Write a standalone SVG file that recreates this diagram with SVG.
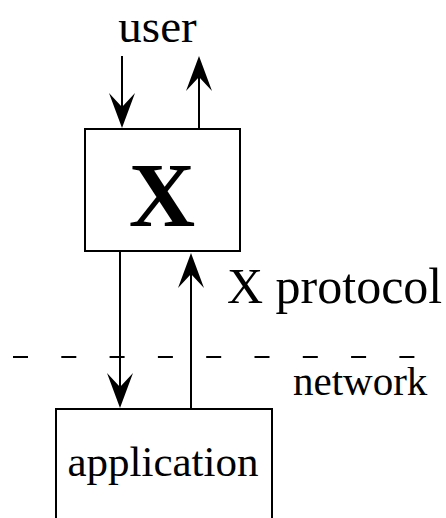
<svg xmlns="http://www.w3.org/2000/svg" width="446" height="518" viewBox="0 0 446 518">
<style>
  .box { fill: #fff; stroke: #000; stroke-width: 2; }
  .ln { stroke: #000; stroke-width: 2; fill: none; }
  .head { fill: #000; stroke: none; }
  .t { font-family: "Liberation Serif", "Times New Roman", serif; fill: #000; }
</style>
<defs>
  <path id="hd" class="head" d="M0,0 L-13,-35 L0,-21 L13,-35 Z"/>
</defs>
<rect width="446" height="518" fill="#fff"/>
<g id="connectors">
  <line class="ln" x1="122" y1="56" x2="122" y2="110"/>
  <use href="#hd" transform="translate(122,128)"/>
  <line class="ln" x1="199" y1="128" x2="199" y2="75"/>
  <use href="#hd" transform="translate(199,56) rotate(180)"/>
  <line class="ln" x1="120" y1="252" x2="120" y2="390"/>
  <use href="#hd" transform="translate(120,408)"/>
  <line class="ln" x1="191" y1="408" x2="191" y2="270"/>
  <use href="#hd" transform="translate(191,253) rotate(180)"/>
</g>
<g id="network-line">
  <line class="ln" x1="13" y1="357" x2="446" y2="357" stroke-dasharray="15 33.3"/>
  <text class="t" x="293" y="395" font-size="41">network</text>
</g>
<g id="user">
  <text class="t" x="157.5" y="42" font-size="47" text-anchor="middle">user</text>
</g>
<g id="x-server">
  <rect class="box" x="85" y="129" width="155" height="122"/>
  <text class="t" x="162" y="226" font-size="92" font-weight="bold" text-anchor="middle">X</text>
</g>
<g id="protocol-label">
  <text class="t" x="227" y="303" font-size="50">X protocol</text>
</g>
<g id="application">
  <rect class="box" x="56" y="409" width="216" height="130"/>
  <text class="t" x="163" y="476" font-size="43" text-anchor="middle">application</text>
</g>
</svg>
